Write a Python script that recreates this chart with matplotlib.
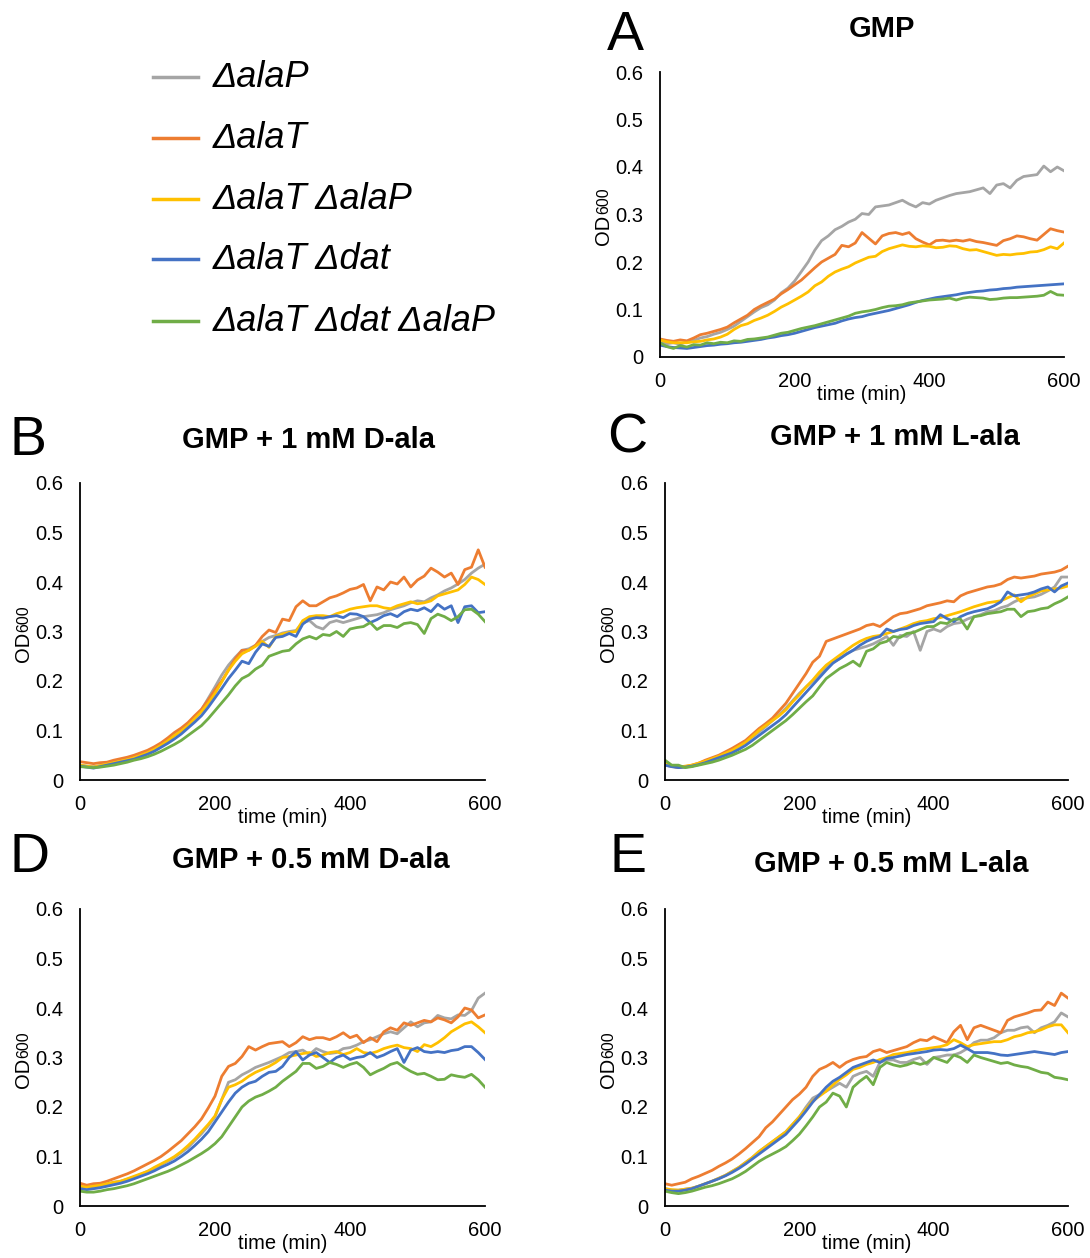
import matplotlib
matplotlib.use("Agg")
import matplotlib.pyplot as plt
from matplotlib.lines import Line2D

plt.rcParams['font.family'] = ['Liberation Sans', 'DejaVu Sans']

W, H = 1090, 1258

time_min = list(range(0, 601, 10))

strains = ["ΔalaP", "ΔalaT", "ΔalaT ΔalaP", "ΔalaT Δdat", "ΔalaT Δdat ΔalaP"]
colors = ["#A5A5A5", "#ED7D31", "#FFC000", "#4472C4", "#70AD47"]

titles = ["GMP", "GMP + 1 mM D-ala", "GMP + 1 mM L-ala", "GMP + 0.5 mM D-ala", "GMP + 0.5 mM L-ala"]
letters = ["A", "B", "C", "D", "E"]
y_ticks = [0, 0.1, 0.2, 0.3, 0.4, 0.5, 0.6]
y_tick_labels = ["0", "0.1", "0.2", "0.3", "0.4", "0.5", "0.6"]
x_ticks = [0, 200, 400, 600]

# Panel A: GMP
gray_A = [0.030,0.028,0.030,0.027,0.032,0.035,0.040,0.043,0.048,0.052,0.058,0.065,0.075,0.085,0.095,0.104,0.110,0.120,0.135,0.145,0.160,0.180,0.200,0.225,0.245,0.255,0.268,0.275,0.284,0.290,0.302,0.300,0.316,0.318,0.320,0.325,0.330,0.322,0.316,0.325,0.322,0.330,0.335,0.340,0.344,0.346,0.348,0.352,0.356,0.344,0.362,0.365,0.356,0.372,0.380,0.382,0.384,0.402,0.390,0.400,0.392]
orange_A = [0.038,0.035,0.033,0.036,0.034,0.040,0.047,0.050,0.054,0.058,0.063,0.072,0.080,0.088,0.100,0.108,0.115,0.122,0.133,0.142,0.152,0.162,0.175,0.188,0.200,0.208,0.216,0.235,0.232,0.240,0.262,0.250,0.238,0.255,0.260,0.262,0.258,0.262,0.249,0.242,0.236,0.245,0.246,0.244,0.246,0.244,0.247,0.243,0.241,0.238,0.235,0.245,0.249,0.255,0.253,0.249,0.246,0.258,0.270,0.266,0.263]
yellow_A = [0.036,0.032,0.030,0.030,0.030,0.032,0.033,0.036,0.038,0.042,0.048,0.058,0.066,0.070,0.077,0.082,0.088,0.096,0.105,0.112,0.120,0.128,0.137,0.150,0.158,0.170,0.179,0.185,0.190,0.198,0.204,0.210,0.212,0.222,0.228,0.232,0.236,0.233,0.232,0.234,0.233,0.230,0.231,0.234,0.233,0.228,0.225,0.226,0.222,0.218,0.214,0.216,0.215,0.217,0.218,0.221,0.222,0.226,0.232,0.228,0.240]
blue_A = [0.025,0.022,0.020,0.019,0.018,0.020,0.022,0.024,0.025,0.027,0.028,0.030,0.031,0.033,0.035,0.037,0.040,0.042,0.045,0.047,0.050,0.054,0.058,0.062,0.065,0.068,0.071,0.076,0.080,0.083,0.085,0.089,0.092,0.095,0.098,0.102,0.106,0.110,0.115,0.119,0.122,0.125,0.127,0.129,0.131,0.134,0.136,0.138,0.139,0.141,0.142,0.144,0.145,0.147,0.148,0.149,0.150,0.151,0.152,0.153,0.154]
green_A = [0.030,0.022,0.018,0.024,0.021,0.026,0.025,0.030,0.028,0.031,0.030,0.034,0.033,0.037,0.038,0.040,0.042,0.046,0.050,0.052,0.056,0.060,0.063,0.066,0.070,0.074,0.078,0.082,0.086,0.092,0.095,0.097,0.100,0.104,0.107,0.108,0.110,0.114,0.116,0.118,0.120,0.121,0.122,0.124,0.120,0.124,0.126,0.125,0.124,0.121,0.122,0.124,0.125,0.125,0.126,0.127,0.128,0.130,0.138,0.131,0.130]

# Panel B: GMP + 1 mM D-ala
gray_B = [0.030,0.028,0.027,0.029,0.032,0.035,0.038,0.041,0.045,0.050,0.055,0.062,0.070,0.079,0.090,0.100,0.112,0.126,0.142,0.165,0.188,0.212,0.232,0.248,0.262,0.265,0.272,0.280,0.288,0.292,0.297,0.300,0.302,0.318,0.322,0.310,0.305,0.318,0.322,0.318,0.322,0.326,0.330,0.332,0.334,0.338,0.344,0.348,0.352,0.358,0.362,0.360,0.368,0.374,0.382,0.388,0.396,0.405,0.418,0.428,0.436]
orange_B = [0.037,0.035,0.033,0.035,0.036,0.040,0.043,0.046,0.050,0.055,0.060,0.067,0.075,0.085,0.096,0.105,0.116,0.130,0.143,0.162,0.182,0.200,0.222,0.245,0.262,0.262,0.272,0.290,0.303,0.298,0.325,0.322,0.350,0.362,0.352,0.352,0.360,0.368,0.372,0.378,0.385,0.388,0.395,0.362,0.390,0.384,0.400,0.396,0.410,0.390,0.404,0.412,0.428,0.420,0.410,0.418,0.395,0.425,0.430,0.465,0.430]
yellow_B = [0.030,0.028,0.026,0.029,0.032,0.035,0.038,0.041,0.045,0.050,0.055,0.062,0.070,0.079,0.090,0.099,0.110,0.124,0.138,0.155,0.175,0.198,0.222,0.240,0.255,0.262,0.270,0.280,0.268,0.290,0.295,0.298,0.300,0.322,0.330,0.332,0.332,0.330,0.336,0.340,0.345,0.348,0.350,0.352,0.352,0.348,0.346,0.352,0.356,0.360,0.356,0.358,0.362,0.372,0.376,0.380,0.384,0.395,0.410,0.405,0.395]
blue_B = [0.028,0.026,0.024,0.027,0.030,0.033,0.036,0.039,0.042,0.047,0.052,0.058,0.066,0.074,0.083,0.093,0.105,0.117,0.130,0.147,0.166,0.185,0.205,0.222,0.240,0.235,0.258,0.275,0.270,0.288,0.290,0.296,0.290,0.315,0.325,0.328,0.327,0.330,0.332,0.328,0.336,0.335,0.330,0.318,0.324,0.332,0.336,0.330,0.340,0.345,0.342,0.348,0.340,0.355,0.345,0.352,0.318,0.350,0.352,0.338,0.340]
green_B = [0.027,0.026,0.025,0.026,0.028,0.030,0.033,0.036,0.040,0.043,0.047,0.052,0.058,0.065,0.072,0.080,0.090,0.100,0.110,0.124,0.140,0.156,0.172,0.190,0.205,0.212,0.224,0.232,0.250,0.255,0.260,0.262,0.275,0.285,0.290,0.285,0.294,0.292,0.300,0.290,0.305,0.308,0.310,0.318,0.304,0.312,0.312,0.308,0.316,0.318,0.314,0.296,0.326,0.335,0.330,0.322,0.330,0.344,0.345,0.335,0.320]

# Panel C: GMP + 1 mM L-ala
gray_C = [0.030,0.027,0.026,0.027,0.028,0.032,0.036,0.041,0.047,0.053,0.060,0.068,0.077,0.087,0.097,0.108,0.120,0.132,0.145,0.160,0.175,0.188,0.200,0.212,0.228,0.238,0.245,0.255,0.262,0.266,0.270,0.275,0.282,0.290,0.272,0.292,0.290,0.300,0.262,0.300,0.305,0.300,0.310,0.316,0.318,0.325,0.330,0.334,0.340,0.342,0.348,0.352,0.360,0.366,0.368,0.370,0.375,0.382,0.390,0.410,0.410]
orange_C = [0.035,0.028,0.025,0.027,0.030,0.034,0.040,0.045,0.050,0.057,0.064,0.072,0.080,0.092,0.104,0.114,0.125,0.140,0.155,0.175,0.195,0.215,0.238,0.250,0.280,0.285,0.290,0.295,0.300,0.305,0.312,0.315,0.310,0.320,0.330,0.336,0.338,0.342,0.346,0.352,0.355,0.358,0.362,0.360,0.372,0.378,0.382,0.386,0.390,0.392,0.396,0.405,0.410,0.408,0.410,0.412,0.416,0.418,0.420,0.424,0.432]
yellow_C = [0.035,0.028,0.026,0.028,0.030,0.034,0.038,0.043,0.048,0.054,0.060,0.068,0.076,0.088,0.100,0.110,0.120,0.130,0.142,0.158,0.172,0.188,0.202,0.218,0.232,0.242,0.252,0.262,0.272,0.280,0.286,0.290,0.292,0.296,0.300,0.305,0.310,0.316,0.320,0.322,0.326,0.328,0.332,0.336,0.340,0.345,0.350,0.354,0.358,0.360,0.362,0.368,0.374,0.360,0.370,0.376,0.382,0.384,0.386,0.388,0.392]
blue_C = [0.030,0.027,0.025,0.026,0.028,0.031,0.035,0.040,0.045,0.050,0.055,0.062,0.070,0.080,0.090,0.100,0.110,0.120,0.132,0.147,0.162,0.177,0.192,0.207,0.222,0.236,0.245,0.254,0.262,0.272,0.280,0.286,0.290,0.305,0.300,0.304,0.306,0.312,0.316,0.318,0.320,0.334,0.326,0.320,0.330,0.336,0.340,0.343,0.346,0.352,0.360,0.380,0.372,0.374,0.376,0.380,0.386,0.390,0.380,0.392,0.398]
green_C = [0.040,0.030,0.030,0.025,0.027,0.030,0.033,0.036,0.040,0.045,0.050,0.056,0.062,0.070,0.080,0.090,0.100,0.110,0.120,0.132,0.145,0.158,0.170,0.188,0.205,0.215,0.225,0.232,0.240,0.230,0.260,0.265,0.276,0.280,0.290,0.288,0.296,0.298,0.304,0.310,0.310,0.318,0.316,0.325,0.325,0.305,0.330,0.332,0.336,0.338,0.340,0.345,0.345,0.330,0.340,0.342,0.346,0.348,0.356,0.362,0.370]

# Panel D: GMP + 0.5 mM D-ala
gray_D = [0.040,0.038,0.040,0.042,0.044,0.048,0.050,0.054,0.058,0.064,0.070,0.076,0.083,0.090,0.098,0.108,0.118,0.132,0.146,0.162,0.180,0.215,0.250,0.255,0.265,0.272,0.280,0.285,0.290,0.296,0.302,0.310,0.312,0.315,0.306,0.318,0.312,0.308,0.310,0.318,0.320,0.325,0.332,0.336,0.342,0.348,0.352,0.348,0.360,0.372,0.362,0.370,0.372,0.385,0.380,0.378,0.386,0.385,0.395,0.420,0.430]
orange_D = [0.046,0.042,0.045,0.046,0.050,0.055,0.060,0.065,0.071,0.078,0.085,0.092,0.100,0.110,0.121,0.132,0.146,0.160,0.176,0.198,0.222,0.262,0.282,0.288,0.302,0.322,0.315,0.322,0.328,0.330,0.332,0.322,0.330,0.342,0.336,0.340,0.340,0.336,0.342,0.350,0.340,0.345,0.330,0.340,0.332,0.352,0.360,0.355,0.370,0.365,0.370,0.375,0.372,0.380,0.376,0.370,0.382,0.400,0.396,0.380,0.386]
yellow_D = [0.040,0.038,0.040,0.042,0.045,0.048,0.050,0.055,0.060,0.065,0.070,0.078,0.085,0.092,0.100,0.110,0.122,0.135,0.150,0.165,0.182,0.215,0.240,0.245,0.252,0.262,0.270,0.276,0.282,0.290,0.300,0.302,0.305,0.308,0.310,0.302,0.305,0.310,0.312,0.306,0.310,0.318,0.310,0.308,0.312,0.318,0.322,0.325,0.320,0.318,0.312,0.326,0.322,0.330,0.340,0.352,0.360,0.368,0.372,0.362,0.350]
blue_D = [0.035,0.033,0.035,0.037,0.040,0.043,0.046,0.050,0.055,0.060,0.065,0.071,0.078,0.084,0.091,0.100,0.110,0.122,0.135,0.150,0.170,0.190,0.210,0.228,0.240,0.248,0.252,0.262,0.270,0.272,0.282,0.300,0.312,0.295,0.305,0.310,0.300,0.290,0.300,0.305,0.296,0.300,0.302,0.310,0.300,0.305,0.312,0.318,0.290,0.315,0.320,0.312,0.310,0.312,0.310,0.314,0.316,0.322,0.322,0.310,0.296]
green_D = [0.030,0.028,0.028,0.030,0.033,0.035,0.038,0.041,0.045,0.050,0.055,0.060,0.065,0.070,0.076,0.083,0.090,0.098,0.106,0.115,0.126,0.140,0.160,0.180,0.200,0.212,0.220,0.225,0.232,0.240,0.252,0.262,0.272,0.288,0.288,0.278,0.282,0.290,0.286,0.280,0.286,0.290,0.280,0.265,0.272,0.278,0.286,0.290,0.280,0.272,0.266,0.268,0.262,0.255,0.256,0.265,0.262,0.260,0.266,0.255,0.240]

# Panel E: GMP + 0.5 mM L-ala
gray_E = [0.035,0.032,0.032,0.034,0.036,0.040,0.045,0.050,0.056,0.062,0.070,0.078,0.088,0.098,0.110,0.120,0.130,0.140,0.150,0.165,0.180,0.200,0.218,0.225,0.232,0.240,0.248,0.240,0.262,0.268,0.272,0.262,0.290,0.295,0.295,0.290,0.290,0.296,0.300,0.286,0.300,0.302,0.305,0.305,0.310,0.318,0.330,0.335,0.335,0.340,0.350,0.355,0.355,0.360,0.362,0.350,0.360,0.365,0.372,0.390,0.382]
orange_E = [0.045,0.042,0.045,0.048,0.055,0.060,0.066,0.072,0.080,0.087,0.095,0.105,0.116,0.128,0.140,0.158,0.170,0.185,0.200,0.215,0.226,0.240,0.262,0.276,0.282,0.290,0.280,0.290,0.296,0.300,0.302,0.312,0.316,0.310,0.314,0.318,0.322,0.330,0.336,0.334,0.342,0.336,0.330,0.352,0.365,0.336,0.360,0.365,0.360,0.355,0.350,0.375,0.382,0.386,0.390,0.395,0.396,0.412,0.405,0.430,0.420]
yellow_E = [0.035,0.033,0.032,0.034,0.036,0.040,0.045,0.050,0.056,0.062,0.070,0.078,0.088,0.098,0.110,0.120,0.130,0.140,0.150,0.165,0.180,0.196,0.212,0.222,0.232,0.245,0.256,0.265,0.276,0.280,0.286,0.290,0.296,0.300,0.306,0.308,0.310,0.313,0.316,0.318,0.320,0.322,0.326,0.336,0.330,0.322,0.326,0.328,0.330,0.332,0.332,0.336,0.342,0.345,0.350,0.352,0.356,0.362,0.366,0.366,0.350]
blue_E = [0.032,0.030,0.030,0.032,0.035,0.040,0.045,0.050,0.055,0.061,0.068,0.076,0.085,0.095,0.105,0.115,0.125,0.135,0.145,0.160,0.175,0.192,0.210,0.225,0.240,0.252,0.260,0.270,0.280,0.285,0.290,0.295,0.290,0.298,0.300,0.303,0.306,0.308,0.310,0.312,0.315,0.316,0.315,0.318,0.325,0.318,0.310,0.310,0.310,0.308,0.305,0.304,0.306,0.308,0.310,0.312,0.310,0.308,0.306,0.310,0.312]
green_E = [0.030,0.027,0.025,0.027,0.030,0.034,0.038,0.041,0.045,0.050,0.055,0.062,0.070,0.080,0.090,0.098,0.105,0.112,0.120,0.132,0.145,0.162,0.180,0.200,0.210,0.228,0.222,0.200,0.240,0.252,0.262,0.245,0.280,0.290,0.285,0.282,0.285,0.290,0.286,0.290,0.300,0.295,0.290,0.305,0.300,0.290,0.305,0.300,0.296,0.292,0.288,0.290,0.285,0.282,0.280,0.275,0.270,0.268,0.260,0.258,0.255]

panel_data = [
    [gray_A, orange_A, yellow_A, blue_A, green_A],
    [gray_B, orange_B, yellow_B, blue_B, green_B],
    [gray_C, orange_C, yellow_C, blue_C, green_C],
    [gray_D, orange_D, yellow_D, blue_D, green_D],
    [gray_E, orange_E, yellow_E, blue_E, green_E],
]

# axes rectangles in pixels: (left, top, right, bottom)
axes_px = [
    (660, 72, 1064, 357),
    (80, 483, 485, 780),
    (665, 483, 1068, 780),
    (80, 909, 485, 1206),
    (665, 909, 1068, 1206),
]
# title (x center, baseline y) and panel-letter (left x, baseline y) in px
title_px = [(882, 37), (308, 448), (895, 445), (311, 868), (891, 872)]
letter_px = [(607, 50), (9, 455), (607, 453), (9, 872), (609, 872)]

fig = plt.figure(figsize=(W / 100, H / 100), dpi=100)

def fx(x):
    return x / W

def fy(y):
    return 1 - y / H

for i in range(5):
    l, t, r, b = axes_px[i]
    ax = fig.add_axes([fx(l), fy(b), (r - l) / W, (b - t) / H])
    for s, series in enumerate(panel_data[i]):
        ax.plot(time_min, series, color=colors[s], lw=2.0, solid_joinstyle='round')
    ax.set_xlim(0, 600)
    ax.set_ylim(0, 0.6)
    ax.set_yticks(y_ticks)
    ax.set_yticklabels(y_tick_labels)
    ax.set_xticks(x_ticks)
    for sp in ["top", "right"]:
        ax.spines[sp].set_visible(False)
    for sp in ["left", "bottom"]:
        ax.spines[sp].set_linewidth(1.3)
        ax.spines[sp].set_color("black")
    ax.tick_params(axis='y', length=0, pad=12, labelsize=14.5)
    ax.tick_params(axis='x', length=0, pad=11, labelsize=14.5)
    ax.set_facecolor("none")
    ax.annotate("time (min)", xy=(0.5, 0), xycoords='axes fraction',
                xytext=(0, -27), textcoords='offset points',
                ha='center', va='center', fontsize=14.5)
    ax.annotate("OD", xy=(0, 0.5), xycoords='axes fraction',
                xytext=(-37, 0), textcoords='offset points',
                rotation=90, rotation_mode='anchor', ha='right', va='baseline', fontsize=14.5)
    ax.annotate("600", xy=(0, 0.5), xycoords='axes fraction',
                xytext=(-37, 0), textcoords='offset points',
                rotation=90, rotation_mode='anchor', ha='left', va='baseline', fontsize=11.5)
    tx, ty = title_px[i]
    fig.text(fx(tx), fy(ty), titles[i], ha='center', va='baseline',
             fontsize=21, fontweight='bold')
    lx, ly = letter_px[i]
    fig.text(fx(lx), fy(ly), letters[i], ha='left', va='baseline', fontsize=40)

# legend (manual, top-left)
row_y = [77, 138, 199, 259, 321]
for s in range(5):
    fig.add_artist(Line2D([fx(153), fx(198)], [fy(row_y[s]), fy(row_y[s])],
                          color=colors[s], lw=2.5, transform=fig.transFigure))
    fig.text(fx(213), fy(row_y[s] + 10), strains[s], ha='left', va='baseline',
             fontsize=26, style='italic')

fig.savefig("out.png", dpi=100)
